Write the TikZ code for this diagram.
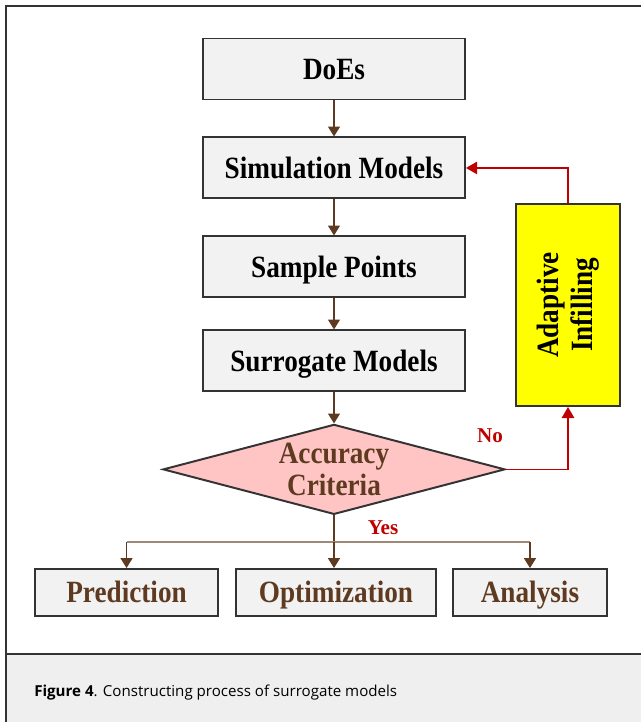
\documentclass[tikz,border=0pt]{standalone}
\usepackage{fontspec}
\setmainfont{Liberation Serif}
\newfontfamily\boxfont[FakeStretch=0.88]{Liberation Serif}
\newfontfamily\capfont{Open Sans}
\usepackage{tikz}
\usetikzlibrary{arrows.meta, positioning, shapes.geometric}
\definecolor{cbox}{RGB}{242,242,242}
\definecolor{cpink}{RGB}{255,196,196}
\definecolor{cyellow}{RGB}{255,255,0}
\definecolor{cbrown}{RGB}{94,58,32}
\definecolor{cbus}{RGB}{160,136,120}
\definecolor{cred}{RGB}{192,0,0}
\definecolor{cframe}{RGB}{51,51,51}
\definecolor{ccap}{RGB}{239,239,239}

\begin{document}
\begin{tikzpicture}[
  node distance = 0.9cm,
  box/.style    = {rectangle, draw=cframe, line width=1.4pt, fill=cbox,
                   minimum width=6.55cm, minimum height=1.525cm, inner sep=0pt,
                   text height=14.6pt, text depth=0pt,
                   font=\boxfont\fontsize{22}{24}\selectfont\bfseries},
  outbox/.style = {box, minimum width=#1, minimum height=1.175cm, text=cbrown},
  decide/.style = {diamond, draw=cframe, line width=1.4pt, fill=cpink, aspect=3.7,
                   minimum width=8.55cm, minimum height=2.25cm, inner sep=0pt, align=center,
                   text=cbrown, font=\boxfont\fontsize{22}{23}\selectfont\bfseries},
  arr/.style    = {-{Triangle[length=7pt, width=8.5pt]}, line width=0.85pt, cbrown},
  back/.style   = {-{Triangle[length=8pt, width=9pt]}, line width=0.85pt, cred},
  tag/.style    = {text=cred, font=\fontsize{15}{16}\selectfont\bfseries},
]
% Frame and caption band
\useasboundingbox (0,0) rectangle (16.025,-18.05);
\fill[ccap] (0.15,-16.35) rectangle (16.025,-18.05);
\draw[cframe, line width=1pt] (0.15,-18.05) -- (0.15,-0.15) -- (16.025,-0.15);
\draw[cframe, line width=1pt] (0.15,-16.35) -- (16.025,-16.35);
\node[anchor=base west, inner sep=0pt, font=\capfont\fontsize{10.75}{12}\selectfont] (cap)
  at (0.85,-17.42) {\textbf{Figure 4}. Constructing process of surrogate models};
% Main column
\node[box] (doe) at (8.35,-1.725) {DoEs};
\node[box, below=of doe]               (sim)  {Simulation Models};
\node[box, below=of sim]               (samp) {Sample Points};
\node[box, below=0.775cm of samp]      (surr) {Surrogate Models};
\node[decide, below=0.775cm of surr]   (acc)  {Accuracy\\Criteria};
% Loop back
\node[box, fill=cyellow, minimum width=2.6cm, minimum height=5.05cm] (adapt) at (14.2,-7.625) {};
\node[rotate=90, align=center, inner sep=0pt, font=\boxfont\fontsize{22}{24}\selectfont\bfseries]
  (adlbl) at (adapt.center) {Adaptive\\Infilling};
% Outputs
\node[outbox=5.0cm] (opt) at (8.4,-14.8125) {Optimization};
\node[outbox=4.575cm, left=0.4cm of opt]   (pred) {Prediction};
\node[outbox=3.85cm, right=0.375cm of opt] (ana)  {Analysis};
\coordinate (bus) at (acc.south |- 0,-13.55);
% Arrows
\draw[arr] (doe)  -- (sim);
\draw[arr] (sim)  -- (samp);
\draw[arr] (samp) -- (surr);
\draw[arr] (surr) -- (acc);
\draw[back] (acc.east) -| (adapt.south);
\draw[back] (adapt.north) |- (sim.east);
\draw[line width=0.85pt, cbrown] (acc.south) -- (bus);
\draw[line width=0.85pt, cbus] (pred.north |- bus) -- (ana.north |- bus);
\draw[arr] (pred.north |- bus) -- (pred);
\draw[arr] (bus) -- (opt.north -| bus);
\draw[arr] (ana.north |- bus) -- (ana);
\node[tag] (no)  at (12.25,-10.9) {No};
\node[tag] (yes) at (9.575,-13.2) {Yes};
\end{tikzpicture}
\end{document}
